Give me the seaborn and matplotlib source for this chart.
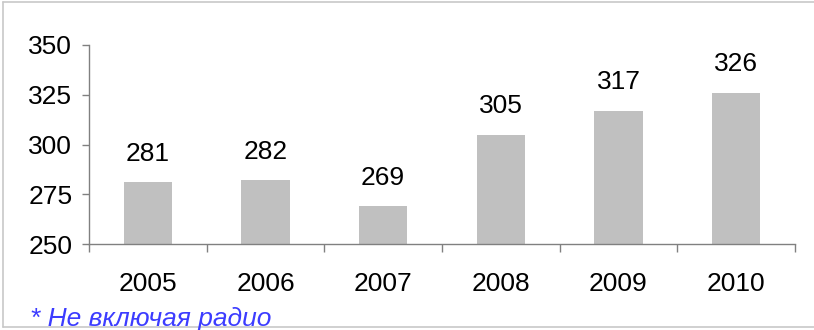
import matplotlib
matplotlib.use("Agg")
import matplotlib.pyplot as plt
from matplotlib.lines import Line2D
from matplotlib.font_manager import fontManager
import seaborn as sns
import pandas as pd

years = ["2005", "2006", "2007", "2008", "2009", "2010"]
values = [281, 282, 269, 305, 317, 326]
y_ticks = [250, 275, 300, 325, 350]
footnote = "* Не включая радио"

sns.set_theme(style="white")
installed = {f.name for f in fontManager.ttflist}
narrow = "Liberation Sans Narrow" if "Liberation Sans Narrow" in installed else "Liberation Sans"
plt.rcParams["font.family"] = [narrow, "DejaVu Sans"]

df = pd.DataFrame({"year": years, "value": values})

fig = plt.figure(figsize=(8.14, 3.30), dpi=100)
ax = fig.add_axes([89 / 814, 1 - 244 / 330, (795 - 89) / 814, (244 - 45) / 330])

sns.barplot(data=df, x="year", y="value", color="#c0c0c0", width=0.41,
            saturation=1, ax=ax, edgecolor="none")

ax.set_ylim(250, 350)
ax.set_xlim(-0.5, len(years) - 0.5)
ax.set_yticks(y_ticks)
ax.set_yticklabels([str(t) for t in y_ticks])

# tick marks sit between categories, labels at the category centres
ax.set_xticks([i - 0.5 for i in range(len(years) + 1)])
ax.set_xticklabels([])
ax.set_xticks(range(len(years)), minor=True)
ax.set_xticklabels(years, minor=True)
ax.tick_params(axis="x", which="major", length=6, width=1, color="#808080",
               direction="out", bottom=True)
ax.tick_params(axis="x", which="minor", length=0, pad=20, labelsize=19,
               labelcolor="black")
ax.tick_params(axis="y", length=5, width=1, color="#808080", direction="out",
               left=True, pad=7, labelsize=19, labelcolor="black")

for side in ("top", "right"):
    ax.spines[side].set_visible(False)
for side in ("left", "bottom"):
    ax.spines[side].set_color("#808080")
    ax.spines[side].set_linewidth(1)

ax.set_xlabel("")
ax.set_ylabel("")
ax.grid(False)

for i, v in enumerate(values):
    ax.annotate(str(v), (i, v), xytext=(0, 12), textcoords="offset points",
                ha="center", va="bottom", fontsize=19, color="black")

fig.text(30 / 814, 1 - 326 / 330, footnote, fontsize=19, style="italic",
         color="#3c3cff", ha="left", va="baseline",
         family=["Liberation Sans", "DejaVu Sans"])

# frame lines around the chart area
frame = dict(color="#c8c8c8", linewidth=1.2, transform=fig.transFigure)
fig.add_artist(Line2D([3 / 814, 1], [1 - 1.5 / 330, 1 - 1.5 / 330], **frame))
fig.add_artist(Line2D([3 / 814, 3 / 814], [1 - 1.5 / 330, 1 - 327 / 330], **frame))
fig.add_artist(Line2D([3 / 814, 1], [1 - 327 / 330, 1 - 327 / 330], **frame))

fig.savefig("out.png", dpi=100)
